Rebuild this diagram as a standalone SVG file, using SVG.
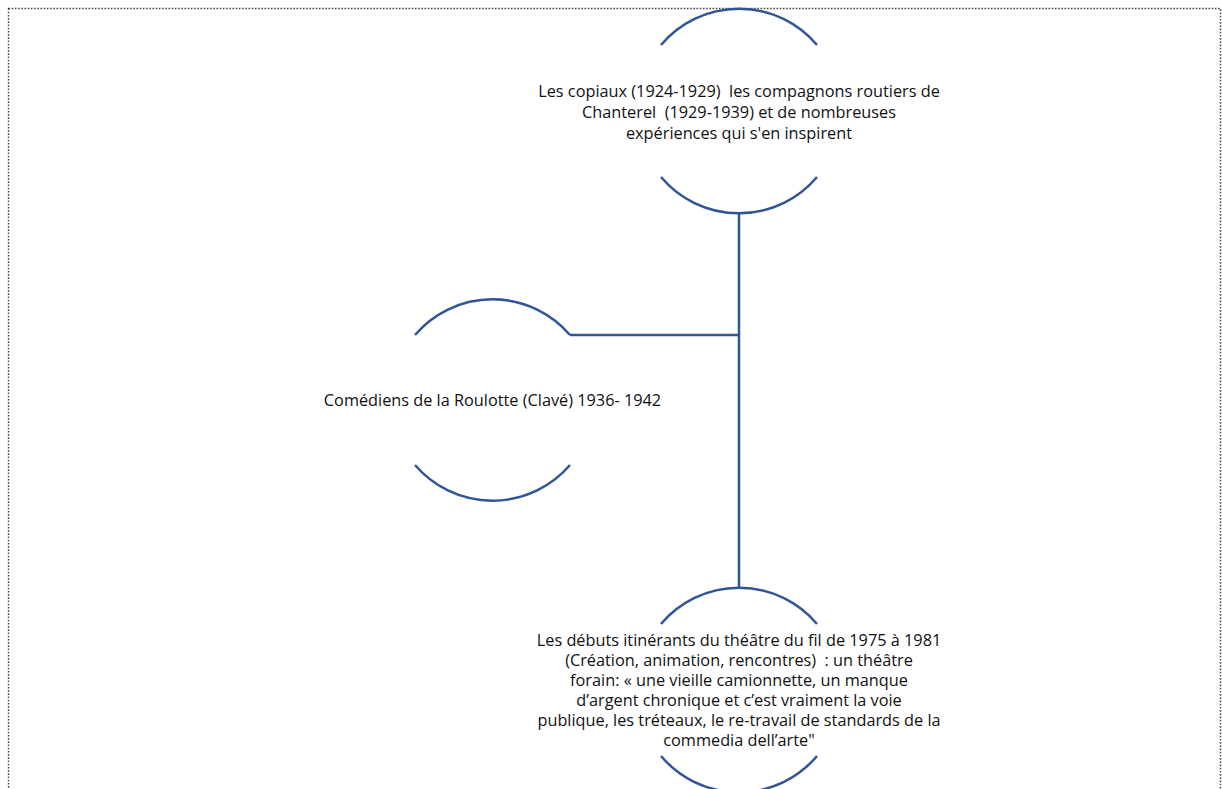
<svg xmlns="http://www.w3.org/2000/svg" width="1222" height="789" viewBox="0 0 1222 789">
<style>
.arc{fill:none;stroke:#2F5597;stroke-width:2.5}
.conn{fill:none;stroke:#2F5597;stroke-width:2.5}
.lbl{font-family:"Open Sans","Liberation Sans",sans-serif;font-size:16.3px;fill:#111;text-anchor:middle;white-space:pre}
.frame{fill:none;stroke:#444;stroke-width:1.4;stroke-dasharray:1.6 1.6}
</style>
<rect width="1222" height="789" fill="#fff"/>
<rect class="frame" x="8.5" y="8.5" width="1212" height="800"/>
<g id="connectors">
<line class="conn" x1="739" y1="213" x2="739" y2="588"/>
<line class="conn" x1="570" y1="335" x2="739" y2="335"/>
</g>
<g id="node-copiaux">
<path class="arc" d="M661,45 A102,102 0 0 1 817,45"/>
<path class="arc" d="M661,177 A102,102 0 0 0 817,177"/>
<text class="lbl" xml:space="preserve"><tspan x="739" y="97">Les copiaux (1924-1929)  les compagnons routiers de</tspan><tspan x="739" y="118">Chanterel  (1929-1939) et de nombreuses</tspan><tspan x="739" y="139">expériences qui s'en inspirent</tspan></text>
</g>
<g id="node-roulotte">
<path class="arc" d="M415,335 A102,102 0 0 1 570,335"/>
<path class="arc" d="M415,465 A102,102 0 0 0 570,465"/>
<text class="lbl" x="492.5" y="406">Comédiens de la Roulotte (Clavé) 1936- 1942</text>
</g>
<g id="node-fil">
<path class="arc" d="M661,624 A102,102 0 0 1 817,624"/>
<path class="arc" d="M661,756 A102,102 0 0 0 817,756"/>
<text class="lbl" xml:space="preserve"><tspan x="739" y="646">Les débuts itinérants du théâtre du fil de 1975 à 1981</tspan><tspan x="739" y="666">(Création, animation, rencontres)  : un théâtre</tspan><tspan x="739" y="686">forain: « une vieille camionnette, un manque</tspan><tspan x="739" y="706">d’argent chronique et c’est vraiment la voie</tspan><tspan x="739" y="726">publique, les tréteaux, le re-travail de standards de la</tspan><tspan x="739" y="746">commedia dell’arte"</tspan></text>
</g>
</svg>
